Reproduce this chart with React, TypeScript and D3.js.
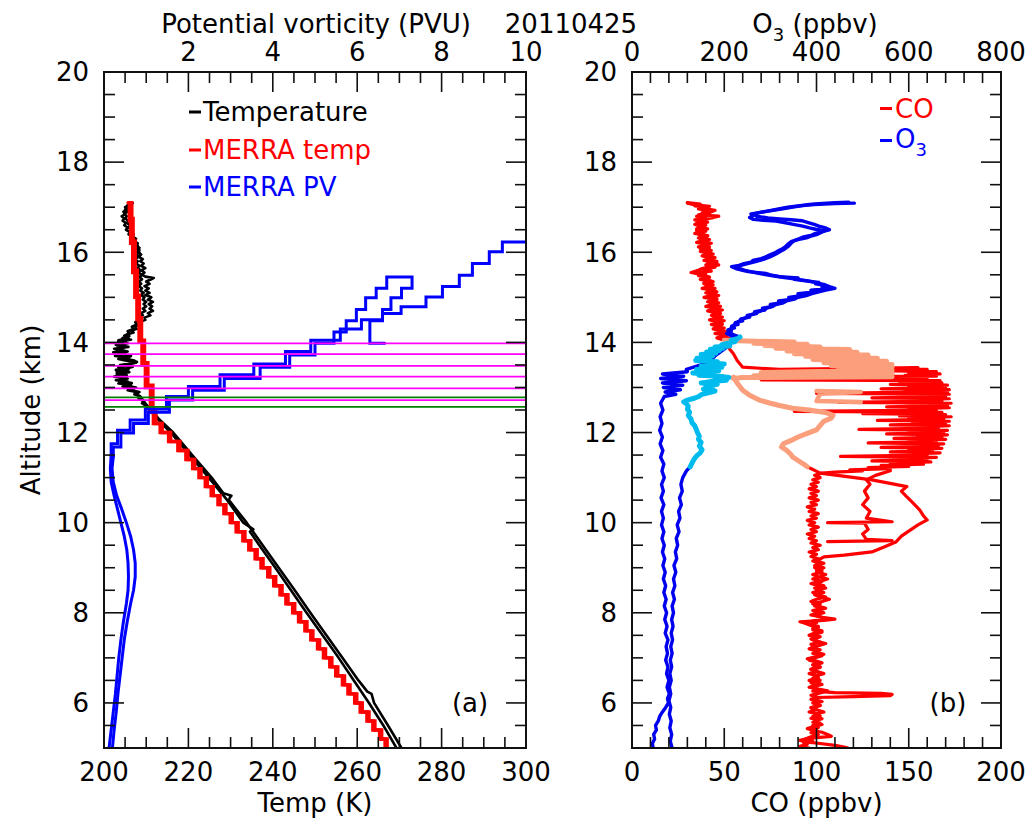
import React from "react";
import * as d3 from "d3";

type P = [number, number]; // [altitude km, value]

// ---------------- tick labels ----------------
const altLabels = [6, 8, 10, 12, 14, 16, 18, 20];
const tempLabels = [200, 220, 240, 260, 280, 300];
const pvLabels = [2, 4, 6, 8, 10];
const coLabels = [0, 50, 100, 150, 200];
const o3Labels = [0, 200, 400, 600, 800];

// ---------------- panel (a) ----------------
const tempUp: P[] = [
  [5.0, 269.3], [5.5, 266.2], [6.0, 262.8], [6.5, 259.2], [7.0, 255.6], [7.5, 251.8], [8.0, 248.0], [8.5, 244.3],
  [9.0, 240.6], [9.5, 236.8], [9.8, 234.6], [9.85, 235.4], [10.0, 233.0], [10.5, 229.2], [11.0, 224.8], [11.5, 220.3],
  [12.0, 215.8], [12.2, 213.7], [12.4, 211.8], [12.6, 209.8],
  [12.65, 209.0], [12.7, 209.4], [12.75, 208.2], [12.8, 208.6], [12.85, 207.2], [12.9, 207.6], [12.94, 205.6],
  [12.98, 207.2], [13.02, 204.4], [13.06, 206.4], [13.09, 203.4], [13.13, 205.6], [13.16, 202.8], [13.2, 205.0],
  [13.24, 202.4], [13.27, 205.4], [13.3, 203.0], [13.34, 206.0], [13.39, 202.8], [13.43, 205.8], [13.46, 206.8],
  [13.5, 203.8], [13.53, 206.6], [13.57, 207.8], [13.6, 205.0], [13.63, 203.4], [13.66, 206.0], [13.7, 202.6],
  [13.74, 205.0], [13.78, 202.2], [13.82, 204.6], [13.86, 202.4], [13.9, 205.8], [13.94, 203.0], [13.98, 205.6],
  [14.02, 203.4], [14.06, 206.4], [14.1, 204.4], [14.14, 206.0], [14.18, 205.6], [14.22, 207.0], [14.26, 206.4],
  [14.3, 207.8], [14.35, 207.4], [14.4, 208.8], [14.45, 208.4], [14.5, 209.8], [14.55, 209.6], [14.6, 211.0],
  [14.65, 210.4], [14.7, 211.6], [14.75, 210.8], [14.8, 211.4], [14.85, 210.6], [14.9, 211.6], [14.95, 210.4],
  [15.0, 211.2], [15.05, 209.8], [15.1, 210.8], [15.15, 209.8], [15.2, 210.6], [15.25, 209.6], [15.3, 210.8],
  [15.35, 210.0], [15.4, 211.2], [15.43, 211.8], [15.46, 209.8], [15.5, 209.0], [15.55, 209.6], [15.6, 208.8],
  [15.65, 209.8], [15.7, 208.8], [15.75, 209.4], [15.8, 208.6], [15.85, 209.2], [15.9, 208.2], [15.95, 208.8],
  [16.0, 207.8], [16.05, 208.4], [16.1, 207.4], [16.15, 208.0], [16.2, 207.0], [16.25, 207.4], [16.3, 206.4],
  [16.35, 206.8], [16.4, 205.8], [16.45, 206.2], [16.5, 205.2], [16.55, 205.6], [16.6, 204.8], [16.65, 205.2],
  [16.7, 204.4], [16.75, 204.8], [16.8, 204.2], [16.85, 205.0], [16.9, 204.6], [16.95, 205.6], [17.0, 205.0],
  [17.05, 206.0], [17.09, 206.4],
];
const tempDown: P[] = [
  [17.09, 206.8], [17.05, 205.6], [17.0, 206.2], [16.95, 205.0], [16.9, 205.6], [16.85, 204.8], [16.8, 205.4],
  [16.75, 205.0], [16.7, 205.8], [16.65, 205.4], [16.6, 206.2], [16.55, 205.8], [16.5, 206.6], [16.45, 206.2],
  [16.4, 207.0], [16.35, 206.8], [16.3, 207.6], [16.25, 207.2], [16.2, 208.0], [16.15, 207.6], [16.1, 208.4],
  [16.05, 208.0], [16.0, 208.4], [15.95, 207.6], [15.9, 208.2], [15.85, 207.4], [15.8, 208.0], [15.75, 207.6],
  [15.7, 208.4], [15.65, 208.0], [15.6, 208.6], [15.55, 208.2], [15.5, 209.0], [15.45, 208.4], [15.4, 209.0],
  [15.35, 208.2], [15.3, 208.8], [15.25, 208.2], [15.2, 209.0], [15.15, 208.6], [15.1, 209.4], [15.05, 208.8],
  [15.0, 209.6], [14.95, 209.2], [14.9, 210.0], [14.85, 209.4], [14.8, 210.0], [14.75, 209.2], [14.7, 209.8],
  [14.65, 208.8], [14.6, 209.2], [14.55, 208.2], [14.5, 208.6], [14.45, 207.4], [14.4, 207.8], [14.35, 206.6],
  [14.3, 207.0], [14.25, 205.6], [14.2, 206.0], [14.15, 204.8], [14.1, 205.8], [14.05, 203.4], [14.0, 205.2],
  [13.95, 202.8], [13.9, 205.0], [13.85, 203.0], [13.8, 205.6], [13.75, 203.8], [13.7, 206.4], [13.65, 204.4],
  [13.6, 207.2], [13.55, 207.6], [13.5, 204.6], [13.45, 203.4], [13.4, 205.8], [13.35, 203.0], [13.3, 205.2],
  [13.25, 202.8], [13.2, 205.6], [13.15, 203.6], [13.1, 206.6], [13.05, 204.8], [13.0, 207.6], [12.95, 205.8],
  [12.9, 208.4], [12.85, 207.6], [12.8, 208.6], [12.7, 209.4], [12.6, 210.2], [12.5, 211.3], [12.3, 213.0],
  [12.0, 216.4], [11.5, 220.9], [11.0, 225.5], [10.65, 228.3], [10.6, 230.2], [10.55, 229.8], [10.5, 229.6],
  [10.0, 233.8], [9.5, 237.6], [9.0, 241.4], [8.5, 245.2], [8.0, 248.9], [7.5, 252.7], [7.0, 256.5], [6.5, 260.3],
  [6.25, 262.4], [6.2, 263.4], [6.0, 264.0], [5.5, 267.3], [5.0, 270.5],
];
const merraTempA: P[] = [
  [5.0, 266.6], [5.2, 265.3], [5.4, 263.7], [5.6, 262.3], [5.8, 260.7], [6.0, 259.4], [6.2, 257.8], [6.4, 256.5],
  [6.6, 254.9], [6.8, 253.5], [7.0, 252.0], [7.2, 250.6], [7.4, 249.0], [7.6, 247.6], [7.8, 246.1], [8.0, 244.7],
  [8.2, 243.1], [8.4, 241.7], [8.6, 240.2], [8.8, 238.8], [9.0, 237.2], [9.2, 235.8], [9.4, 234.3], [9.6, 232.9],
  [9.8, 231.3], [10.0, 229.9], [10.2, 228.4], [10.4, 227.0], [10.6, 225.4], [10.8, 224.0], [11.0, 222.5],
  [11.2, 221.0], [11.4, 219.4], [11.6, 217.5], [11.8, 215.3], [12.0, 213.3], [12.2, 211.7], [12.45, 211.0],
  [13.0, 209.8], [13.5, 209.0], [14.0, 208.3], [14.5, 207.8], [15.0, 207.3], [15.55, 206.8], [16.2, 206.3],
  [16.7, 206.0], [17.1, 205.7],
];
const merraTempB: P[] = [
  [5.0, 267.1], [5.2, 265.8], [5.4, 264.2], [5.6, 262.8], [5.8, 261.2], [6.0, 259.9], [6.2, 258.3], [6.4, 257.0],
  [6.6, 255.4], [6.8, 254.0], [7.0, 252.5], [7.2, 251.1], [7.4, 249.5], [7.6, 248.1], [7.8, 246.6], [8.0, 245.2],
  [8.2, 243.6], [8.4, 242.2], [8.6, 240.7], [8.8, 239.3], [9.0, 237.7], [9.2, 236.3], [9.4, 234.8], [9.6, 233.4],
  [9.8, 231.8], [10.0, 230.4], [10.2, 228.9], [10.4, 227.5], [10.6, 225.9], [10.8, 224.5], [11.0, 223.0],
  [11.2, 221.5], [11.4, 219.9], [11.6, 218.0], [11.8, 215.8], [12.0, 213.8], [12.2, 212.3], [12.5, 211.6],
  [13.05, 210.4], [13.55, 209.6], [14.05, 208.9], [14.55, 208.4], [15.05, 207.9], [15.6, 207.4], [16.25, 206.9],
  [16.75, 206.6], [17.1, 206.3],
];
const pvUpLow: P[] = [
  [5.0, 0.2], [5.4, 0.24], [5.8, 0.29], [6.2, 0.33], [6.6, 0.38], [7.0, 0.43], [7.4, 0.48], [7.8, 0.55], [8.2, 0.63],
  [8.5, 0.7], [8.8, 0.74], [9.1, 0.74], [9.4, 0.7], [9.7, 0.63], [10.0, 0.53], [10.3, 0.42], [10.6, 0.3],
  [10.9, 0.22], [11.2, 0.19], [11.46, 0.22],
];
const pvUpStair: P[] = [
  [11.46, 0.22], [11.68, 0.4], [11.99, 0.7], [12.2, 1.05], [12.45, 1.55], [12.72, 2.1], [12.94, 2.85], [13.2, 3.7],
  [13.45, 4.4], [13.72, 5.0], [13.98, 5.45], [14.23, 5.74], [14.48, 5.98], [14.73, 6.2], [14.99, 6.45], [15.2, 6.7],
  [15.45, 7.3], [15.2, 7.05], [14.99, 6.8], [14.73, 6.6], [14.48, 6.3], [13.98, 6.65],
];
const pvDownLow: P[] = [
  [5.0, 0.12], [5.4, 0.17], [5.8, 0.22], [6.2, 0.27], [6.6, 0.31], [7.0, 0.35], [7.4, 0.4], [7.8, 0.46], [8.2, 0.53],
  [8.5, 0.57], [8.8, 0.58], [9.1, 0.57], [9.4, 0.54], [9.7, 0.48], [10.0, 0.4], [10.3, 0.32], [10.6, 0.24],
  [10.9, 0.17], [11.2, 0.15], [11.5, 0.17],
];
const pvDownStair: P[] = [
  [11.5, 0.17], [11.75, 0.32], [12.05, 0.62], [12.28, 0.98], [12.52, 1.48], [12.8, 2.0], [13.02, 2.75],
  [13.28, 3.55], [13.52, 4.3], [13.8, 4.9], [14.05, 5.6], [14.3, 6.1], [14.5, 6.6], [14.64, 7.04], [14.79, 7.63],
  [15.01, 8.02], [15.24, 8.42], [15.49, 8.73], [15.75, 9.13], [16.01, 9.44], [16.23, 10.6],
];
const magentaAlts = [13.98, 13.74, 13.48, 13.24, 12.98, 12.72];
const greenAlts = [12.78, 12.57];

// ---------------- panel (b) ----------------
const coUp: P[] = [
  [5.0, 96], [5.04, 91], [5.08, 95], [5.12, 93], [5.16, 98], [5.2, 94], [5.25, 97], [5.3, 101], [5.34, 97],
  [5.38, 100], [5.43, 95], [5.48, 99], [5.52, 103], [5.57, 98], [5.62, 101], [5.66, 97], [5.71, 102], [5.75, 99],
  [5.8, 104], [5.85, 100], [5.89, 97], [5.94, 102], [5.98, 99], [6.03, 103], [6.08, 98], [6.12, 101], [6.17, 97],
  [6.22, 102], [6.27, 106], [6.31, 101], [6.36, 98], [6.41, 103], [6.46, 100], [6.5, 96], [6.55, 101], [6.6, 99],
  [6.65, 104], [6.7, 100], [6.74, 97], [6.79, 102], [6.84, 98], [6.89, 103], [6.94, 99], [6.98, 95], [7.03, 100],
  [7.08, 104], [7.13, 99], [7.18, 102], [7.22, 97], [7.27, 101], [7.32, 105], [7.37, 100], [7.42, 97], [7.47, 102],
  [7.52, 99], [7.57, 103], [7.62, 98], [7.67, 101], [7.72, 97], [7.78, 93], [7.8, 91], [7.83, 104], [7.86, 110],
  [7.9, 103], [7.95, 99], [8.0, 104], [8.05, 100], [8.1, 105], [8.15, 101], [8.2, 98], [8.25, 103], [8.3, 107],
  [8.35, 102], [8.4, 99], [8.45, 104], [8.5, 100], [8.55, 105], [8.6, 101], [8.65, 97], [8.7, 102], [8.75, 106],
  [8.8, 101], [8.85, 98], [8.9, 103], [8.95, 100], [9.0, 104], [9.05, 99], [9.1, 102], [9.15, 98], [9.2, 101],
  [9.25, 97], [9.3, 100], [9.35, 96], [9.4, 101], [9.45, 98], [9.5, 102], [9.55, 97], [9.6, 100], [9.65, 96],
  [9.7, 99], [9.75, 95], [9.8, 100], [9.85, 97], [9.9, 101], [9.95, 96], [10.0, 99], [10.05, 95], [10.1, 100],
  [10.15, 97], [10.2, 101], [10.25, 96], [10.3, 99], [10.35, 95], [10.4, 100], [10.45, 97], [10.5, 101],
  [10.55, 96], [10.6, 100], [10.65, 97], [10.7, 101], [10.75, 96], [10.8, 100], [10.85, 97], [10.9, 101],
  [10.95, 98], [11.0, 102], [11.05, 99], [11.1, 103],
  [11.12, 110], [11.15, 125], [11.17, 118], [11.2, 140], [11.22, 128], [11.25, 150], [11.27, 135], [11.3, 158],
  [11.32, 140], [11.35, 162], [11.37, 130], [11.4, 160], [11.42, 145], [11.45, 165], [11.47, 113], [11.5, 160],
  [11.52, 148], [11.55, 167], [11.57, 140], [11.6, 163], [11.62, 150], [11.65, 168], [11.67, 135], [11.7, 166],
  [11.72, 152], [11.75, 169], [11.77, 128], [11.8, 165], [11.82, 150], [11.85, 170], [11.87, 142], [11.9, 168],
  [11.92, 155], [11.95, 171], [11.97, 138], [12.0, 169], [12.02, 150], [12.05, 171], [12.07, 123], [12.1, 166],
  [12.12, 155], [12.15, 172], [12.17, 140], [12.2, 170], [12.22, 152], [12.25, 172], [12.27, 133], [12.3, 169],
  [12.32, 150], [12.35, 173], [12.37, 145], [12.4, 170], [12.42, 125], [12.45, 168], [12.47, 88], [12.5, 165],
  [12.52, 150], [12.55, 172], [12.57, 138], [12.6, 171], [12.62, 155], [12.65, 173], [12.67, 112], [12.7, 168],
  [12.72, 150], [12.75, 172], [12.77, 130], [12.8, 170], [12.82, 152], [12.85, 172], [12.87, 100], [12.9, 171],
  [12.92, 148], [12.95, 172], [12.97, 135], [13.0, 170], [13.02, 150], [13.05, 171], [13.07, 140], [13.1, 168],
  [13.12, 145], [13.15, 167], [13.17, 70], [13.19, 141], [13.21, 160], [13.23, 69], [13.25, 165], [13.27, 148],
  [13.3, 167], [13.32, 150], [13.35, 165], [13.37, 142], [13.4, 160], [13.42, 145], [13.44, 155], [13.4, 80],
  [13.45, 60], [13.6, 57], [13.75, 55], [13.9, 52],
  [14.05, 50], [14.1, 46], [14.15, 51], [14.2, 45], [14.25, 49], [14.3, 44], [14.35, 48], [14.4, 43], [14.45, 47],
  [14.5, 42], [14.55, 48], [14.6, 43], [14.65, 46], [14.7, 41], [14.75, 46], [14.8, 40], [14.85, 45], [14.9, 41],
  [14.95, 46], [15.0, 39], [15.05, 44], [15.1, 40], [15.15, 45], [15.2, 38], [15.25, 43], [15.3, 39], [15.35, 44],
  [15.4, 37], [15.45, 42], [15.5, 38], [15.55, 32], [15.58, 43], [15.62, 39], [15.67, 45], [15.72, 40], [15.77, 46],
  [15.82, 39], [15.87, 44], [15.92, 38], [15.97, 43], [16.02, 37], [16.07, 42], [16.12, 36], [16.17, 41],
  [16.22, 35], [16.27, 40], [16.32, 36], [16.37, 41], [16.42, 34], [16.47, 40], [16.52, 35], [16.57, 39],
  [16.62, 34], [16.67, 41], [16.72, 37], [16.77, 44], [16.8, 47], [16.83, 36], [16.88, 42], [16.93, 45],
  [16.98, 38], [17.02, 42], [17.06, 33], [17.09, 30],
];
const coDownTop: P[] = [
  [17.1, 30], [17.07, 37], [17.03, 34], [17.0, 41], [16.96, 36], [16.92, 43], [16.88, 38], [16.84, 42], [16.8, 35],
  [16.76, 40], [16.72, 34], [16.68, 39], [16.64, 35], [16.6, 40], [16.56, 36], [16.52, 41], [16.48, 35],
  [16.44, 39], [16.4, 36], [16.36, 41], [16.32, 37], [16.28, 42], [16.24, 37], [16.2, 43], [16.16, 38],
  [16.12, 42], [16.08, 37], [16.04, 43], [16.0, 39], [15.96, 44], [15.92, 40], [15.88, 45], [15.84, 40],
  [15.8, 46], [15.76, 41], [15.72, 47], [15.68, 42], [15.64, 38], [15.6, 36], [15.56, 33], [15.52, 40],
  [15.48, 36], [15.44, 42], [15.4, 38], [15.36, 43], [15.32, 39], [15.28, 44], [15.24, 40], [15.2, 45],
  [15.16, 41], [15.12, 46], [15.08, 42], [15.04, 47], [15.0, 43], [14.96, 46], [14.92, 42], [14.88, 47],
  [14.84, 43], [14.8, 48], [14.76, 44], [14.72, 49], [14.68, 45], [14.64, 48], [14.6, 44], [14.56, 49],
  [14.52, 45], [14.48, 50], [14.44, 46], [14.4, 49], [14.36, 45], [14.32, 50], [14.28, 47], [14.24, 51],
  [14.2, 48], [14.16, 52], [14.12, 49], [14.08, 53], [14.05, 52],
];
const coDownLow: P[] = [
  [11.24, 95], [11.1, 102], [10.95, 130], [10.8, 149], [10.7, 146], [10.57, 149], [10.45, 152], [10.28, 156],
  [10.15, 158], [10.06, 160], [9.95, 155], [9.84, 151], [9.7, 146], [9.57, 143], [9.45, 136], [9.35, 130],
  [9.28, 115], [9.24, 104], [9.15, 100], [9.1, 104], [9.05, 101], [9.0, 99], [8.95, 103], [8.9, 100], [8.85, 105],
  [8.8, 102], [8.75, 98], [8.7, 103], [8.65, 100], [8.6, 104], [8.55, 99], [8.5, 102], [8.45, 98], [8.4, 101],
  [8.35, 105], [8.3, 100], [8.25, 97], [8.2, 102], [8.15, 99], [8.1, 103], [8.05, 98], [8.0, 101], [7.95, 97],
  [7.9, 103], [7.86, 106], [7.82, 98], [7.78, 100], [7.74, 96], [7.7, 101], [7.65, 98], [7.6, 103], [7.55, 99],
  [7.5, 96], [7.45, 101], [7.4, 98], [7.35, 102], [7.3, 97], [7.25, 100], [7.2, 96], [7.15, 101], [7.1, 98],
  [7.05, 103], [7.0, 99], [6.95, 96], [6.9, 101], [6.85, 98], [6.8, 102], [6.75, 97], [6.7, 100], [6.65, 96],
  [6.6, 101], [6.55, 98], [6.5, 102], [6.45, 97], [6.4, 100], [6.35, 96], [6.3, 101], [6.26, 98], [6.23, 110],
  [6.21, 135], [6.19, 141], [6.16, 140], [6.14, 120], [6.12, 100], [6.08, 97], [6.04, 101], [6.0, 98],
  [5.95, 102], [5.9, 97], [5.85, 100], [5.8, 96], [5.75, 101], [5.7, 98], [5.65, 103], [5.6, 99], [5.55, 102],
  [5.5, 98], [5.45, 101], [5.4, 97], [5.35, 103], [5.3, 106], [5.26, 108], [5.23, 100], [5.2, 94], [5.17, 91],
  [5.13, 95], [5.1, 102], [5.06, 110], [5.02, 115], [5.0, 117],
];
const coMid: P[] = [
  [9.58, 106], [9.6, 141], [9.63, 127], [9.75, 125], [9.85, 128], [9.99, 126], [10.0, 106], [10.02, 141],
  [10.1, 127], [10.25, 129], [10.4, 125], [10.55, 128], [10.7, 126], [10.85, 129], [10.95, 127], [11.05, 132],
  [11.15, 140],
];
const coHiBand: P[] = [
  [14.05, 50], [14.03, 62], [14.01, 88], [13.98, 66], [13.96, 95], [13.93, 72], [13.9, 102], [13.87, 78],
  [13.84, 118], [13.81, 84], [13.78, 122], [13.75, 88], [13.72, 128], [13.69, 94], [13.65, 133], [13.62, 98],
  [13.58, 138], [13.55, 104], [13.51, 141], [13.48, 108], [13.45, 141], [13.41, 112], [13.38, 141], [13.33, 70],
  [13.3, 141], [13.26, 66], [13.24, 141], [13.22, 60], [13.2, 55],
];
const coHiCurve: P[] = [
  [13.23, 55], [13.1, 57], [12.94, 60], [12.82, 64], [12.72, 69], [12.65, 75], [12.6, 80], [12.54, 87],
  [12.5, 96], [12.45, 104], [12.43, 106], [12.38, 109], [12.32, 108], [12.25, 104], [12.16, 102], [12.06, 100],
  [11.98, 95], [11.9, 90], [11.82, 86], [11.75, 82], [11.68, 81], [11.6, 84], [11.52, 86], [11.46, 87],
  [11.38, 90], [11.3, 93], [11.24, 95],
];
const coHiBits: P[] = [[12.92, 100], [12.9, 124], [12.86, 102], [12.7, 100], [12.68, 124]];

const o3Up: P[] = [
  [5.0, 46], [5.1, 44], [5.2, 49], [5.3, 47], [5.4, 53], [5.5, 51], [5.6, 57], [5.7, 60], [5.8, 66], [5.9, 73],
  [6.0, 79], [6.1, 77], [6.2, 81], [6.35, 76], [6.5, 80], [6.65, 75], [6.8, 78], [6.95, 73], [7.1, 77], [7.25, 74],
  [7.4, 78], [7.55, 72], [7.7, 76], [7.85, 71], [8.0, 75], [8.15, 70], [8.3, 74], [8.45, 69], [8.6, 73], [8.75, 68],
  [8.9, 72], [9.05, 67], [9.2, 71], [9.35, 66], [9.5, 70], [9.65, 65], [9.8, 69], [9.95, 64], [10.1, 68],
  [10.25, 64], [10.4, 69], [10.55, 63], [10.7, 68], [10.85, 64], [11.0, 70], [11.15, 65], [11.3, 69], [11.45, 62],
  [11.6, 67], [11.75, 61], [11.9, 66], [12.05, 60], [12.2, 65], [12.35, 61], [12.5, 67], [12.65, 62], [12.8, 70],
  [12.85, 95], [12.9, 72], [12.95, 105], [13.0, 68], [13.05, 110], [13.1, 66], [13.15, 118], [13.2, 62],
  [13.25, 112], [13.3, 66], [13.35, 120], [13.4, 118],
  [13.55, 165], [13.7, 180], [13.85, 200], [14.0, 215], [14.1, 225],
  [14.2, 205], [14.24, 215], [14.28, 208], [14.32, 222], [14.36, 216], [14.4, 230], [14.44, 224], [14.48, 240],
  [14.52, 236], [14.56, 255], [14.6, 250], [14.64, 270], [14.68, 266], [14.72, 288], [14.76, 283], [14.8, 305],
  [14.84, 300], [14.88, 325], [14.92, 318], [14.96, 348], [15.0, 340], [15.04, 368], [15.08, 360], [15.12, 395],
  [15.16, 388], [15.2, 429], [15.23, 412], [15.26, 420], [15.3, 398], [15.33, 405], [15.36, 380], [15.4, 352],
  [15.43, 360], [15.46, 320], [15.5, 300], [15.53, 290], [15.57, 252], [15.6, 240], [15.64, 225], [15.68, 216],
  [15.71, 232], [15.74, 240], [15.78, 258], [15.82, 262], [15.86, 280], [15.9, 290], [15.94, 298], [15.98, 308],
  [16.02, 315], [16.07, 325], [16.12, 332], [16.18, 338], [16.24, 346], [16.28, 360], [16.32, 378], [16.36, 388],
  [16.4, 402], [16.44, 410], [16.48, 418], [16.51, 398], [16.54, 385], [16.58, 370], [16.62, 350], [16.66, 330],
  [16.69, 312], [16.71, 285], [16.73, 263], [16.77, 255], [16.81, 262], [16.85, 258], [16.89, 282], [16.93, 306],
  [16.97, 330], [17.01, 352], [17.04, 375], [17.06, 395], [17.08, 440], [17.09, 482],
];
const o3DownTop: P[] = [
  [17.11, 470], [17.1, 440], [17.08, 405], [17.06, 385], [17.03, 360], [17.0, 338], [16.96, 318], [16.92, 296],
  [16.88, 275], [16.84, 262], [16.8, 270], [16.76, 295], [16.74, 320], [16.72, 345], [16.7, 368], [16.66, 382],
  [16.62, 395], [16.58, 405], [16.54, 420], [16.5, 428], [16.46, 412], [16.42, 398], [16.38, 390], [16.34, 372],
  [16.3, 362], [16.26, 352], [16.2, 345], [16.14, 340], [16.08, 332], [16.02, 322], [15.96, 312], [15.9, 300],
  [15.84, 285], [15.8, 270], [15.76, 255], [15.72, 240], [15.68, 228], [15.64, 232], [15.6, 245], [15.56, 262],
  [15.52, 280], [15.48, 305], [15.44, 330], [15.4, 360], [15.36, 385], [15.32, 400], [15.28, 418], [15.24, 428],
  [15.2, 440], [15.16, 420], [15.12, 405], [15.08, 390], [15.04, 378], [15.0, 360], [14.96, 352], [14.92, 335],
  [14.88, 328], [14.84, 312], [14.8, 305], [14.76, 292], [14.72, 285], [14.68, 275], [14.64, 265], [14.6, 255],
  [14.56, 248], [14.52, 240], [14.48, 233], [14.44, 228], [14.4, 222], [14.36, 220], [14.32, 215], [14.28, 216],
  [14.24, 212], [14.2, 215], [14.16, 222], [14.12, 234],
];
const o3DownLow: P[] = [
  [11.24, 126], [11.15, 118], [11.0, 110], [10.85, 106], [10.7, 109], [10.55, 103], [10.4, 107], [10.25, 101],
  [10.1, 104], [9.95, 98], [9.8, 102], [9.65, 96], [9.5, 99], [9.35, 94], [9.2, 97], [9.05, 91], [8.9, 95],
  [8.75, 90], [8.6, 93], [8.45, 88], [8.3, 92], [8.15, 87], [8.0, 90], [7.85, 86], [7.7, 89], [7.55, 85], [7.4, 88],
  [7.25, 84], [7.1, 87], [6.95, 83], [6.8, 86], [6.65, 82], [6.5, 85], [6.35, 81], [6.2, 84], [6.05, 80], [5.9, 84],
  [5.75, 81], [5.6, 85], [5.45, 82], [5.3, 86], [5.15, 83], [5.0, 87],
];
const o3Hi: P[] = [
  [14.12, 234], [14.08, 228], [14.05, 215], [14.02, 224], [13.98, 206], [13.95, 195], [13.92, 212], [13.9, 180],
  [13.87, 198], [13.85, 170], [13.82, 190], [13.79, 162], [13.76, 182], [13.73, 150], [13.7, 175], [13.68, 160],
  [13.65, 141], [13.62, 168], [13.6, 138], [13.57, 185], [13.55, 160], [13.52, 200], [13.5, 172], [13.47, 150],
  [13.45, 195], [13.42, 165], [13.4, 140], [13.37, 188], [13.35, 150], [13.32, 132], [13.3, 170], [13.27, 145],
  [13.25, 190], [13.22, 210], [13.19, 180], [13.16, 205], [13.13, 170], [13.1, 150], [13.07, 185], [13.04, 160],
  [13.0, 175], [12.96, 155], [12.92, 180], [12.88, 165], [12.84, 150], [12.8, 145], [12.76, 135], [12.72, 120],
  [12.68, 112], [12.64, 118], [12.58, 122], [12.52, 120], [12.45, 125], [12.38, 122], [12.3, 128], [12.22, 130],
  [12.15, 136], [12.08, 139], [12.0, 142], [11.92, 146], [11.85, 144], [11.78, 150], [11.7, 146], [11.62, 152],
  [11.55, 148], [11.48, 140], [11.4, 134], [11.32, 130], [11.24, 126],
];

// ---------------- geometry ----------------
const FONT = "'DejaVu Sans', Verdana, sans-serif";
const FS = 26;
const TOP = 72;
const BOT = 748;
const LX0 = 104;
const LX1 = 526;
const RX0 = 632;
const RX1 = 1001;

const yS = d3.scaleLinear().domain([5, 20]).range([BOT, TOP]);
const tS = d3.scaleLinear().domain([200, 300]).range([LX0, LX1]);
const pvS = d3.scaleLinear().domain([0, 10]).range([LX0, LX1]);
const coS = d3.scaleLinear().domain([0, 200]).range([RX0, RX1]);
const o3S = d3.scaleLinear().domain([0, 800]).range([RX0, RX1]);

function pth(data: P[], xs: (v: number) => number, curve: d3.CurveFactory = d3.curveLinear): string {
  return d3.line<P>().x((d) => xs(d[1])).y((d) => yS(d[0])).curve(curve)(data) ?? "";
}

const MAJ = 20;
const MIN = 11;

function isMult(v: number, m: number) {
  return Math.abs(v / m - Math.round(v / m)) < 1e-6;
}

function Frame(props: {
  x0: number; x1: number;
  bottom: (v: number) => number; bottomTicks: number[]; bottomMajor: number;
  top: (v: number) => number; topTicks: number[]; topMajor: number;
}) {
  const { x0, x1 } = props;
  const yTicks = d3.range(5, 20.001, 0.5);
  const lines: React.ReactElement[] = [];
  yTicks.forEach((v, i) => {
    const L = isMult(v, 2) ? MAJ : MIN;
    const y = yS(v);
    lines.push(<line key={"yl" + i} x1={x0} x2={x0 + L} y1={y} y2={y} />);
    lines.push(<line key={"yr" + i} x1={x1 - L} x2={x1} y1={y} y2={y} />);
  });
  props.bottomTicks.forEach((v, i) => {
    const L = isMult(v, props.bottomMajor) ? MAJ : MIN;
    const x = props.bottom(v);
    lines.push(<line key={"b" + i} x1={x} x2={x} y1={BOT} y2={BOT - L} />);
  });
  props.topTicks.forEach((v, i) => {
    const L = isMult(v, props.topMajor) ? MAJ : MIN;
    const x = props.top(v);
    lines.push(<line key={"t" + i} x1={x} x2={x} y1={TOP} y2={TOP + L} />);
  });
  return (
    <g stroke="#111" strokeWidth={1.6} fill="none">
      {lines}
      <rect x={x0} y={TOP} width={x1 - x0} height={BOT - TOP} strokeWidth={2} />
    </g>
  );
}

export default function App() {
  const txt = { fontFamily: FONT, fontSize: FS, fill: "#000" } as const;
  const RED = "#ff0000";
  const BLUE = "#0000ee";
  const SALMON = "#fa9e7c";
  const CYAN = "#00bbee";
  return (
    <svg
      width={1031}
      height={819}
      viewBox="0 0 1031 819"
      style={{ position: "absolute", left: 0, top: 0, background: "#fff", display: "block" }}
    >
      <defs>
        <clipPath id="clipL">
          <rect x={LX0} y={TOP} width={LX1 - LX0} height={BOT - TOP} />
        </clipPath>
        <clipPath id="clipR">
          <rect x={RX0} y={TOP} width={RX1 - RX0} height={BOT - TOP} />
        </clipPath>
      </defs>
      <rect x={0} y={0} width={1031} height={819} fill="#fff" />

      {/* ---------- panel (a) data ---------- */}
      <g clipPath="url(#clipL)" fill="none" strokeLinejoin="round" strokeLinecap="round">
        <path d={pth(tempUp, tS)} stroke="#000" strokeWidth={2.6} />
        <path d={pth(tempDown, tS)} stroke="#000" strokeWidth={2.6} />
        <path d={pth(merraTempA, tS, d3.curveStepBefore)} stroke={RED} strokeWidth={3.4} strokeLinejoin="miter" />
        <path d={pth(merraTempB, tS, d3.curveStepBefore)} stroke={RED} strokeWidth={3.4} strokeLinejoin="miter" />
        <path d={pth(pvUpLow, pvS)} stroke="#0000ff" strokeWidth={3} />
        <path d={pth(pvDownLow, pvS)} stroke="#0000ff" strokeWidth={3} />
        <path d={pth(pvUpStair, pvS, d3.curveStepBefore)} stroke="#0000ff" strokeWidth={3} strokeLinejoin="miter" />
        <path d={pth(pvDownStair, pvS, d3.curveStepBefore)} stroke="#0000ff" strokeWidth={3} strokeLinejoin="miter" />
        {magentaAlts.map((a, i) => (
          <line key={"m" + i} x1={LX0} x2={LX1} y1={yS(a)} y2={yS(a)} stroke="#ff00ff" strokeWidth={1.8} />
        ))}
        {greenAlts.map((a, i) => (
          <line key={"g" + i} x1={LX0} x2={LX1} y1={yS(a)} y2={yS(a)} stroke="#008000" strokeWidth={1.6} />
        ))}
      </g>

      {/* ---------- panel (b) data ---------- */}
      <g clipPath="url(#clipR)" fill="none" strokeLinejoin="round" strokeLinecap="round">
        <path d={pth(coUp, coS)} stroke={RED} strokeWidth={3.2} />
        <path d={pth(coDownTop, coS)} stroke={RED} strokeWidth={3.2} />
        <path d={pth(coDownLow, coS)} stroke={RED} strokeWidth={3.2} />
        <path d={pth(coMid, coS)} stroke={RED} strokeWidth={3.2} />
        <path d={pth(o3Up, o3S)} stroke={BLUE} strokeWidth={3.4} />
        <path d={pth(o3DownTop, o3S)} stroke={BLUE} strokeWidth={3.4} />
        <path d={pth(o3DownLow, o3S)} stroke={BLUE} strokeWidth={3.4} />
        <path d={pth(coHiBand, coS)} stroke={SALMON} strokeWidth={5} />
        <path d={pth(coHiCurve, coS)} stroke={SALMON} strokeWidth={5} />
        <path d={pth(coHiBits, coS)} stroke={SALMON} strokeWidth={4.5} />
        <path d={pth(o3Hi, o3S)} stroke={CYAN} strokeWidth={5} />
      </g>

      {/* ---------- frames & ticks ---------- */}
      <Frame
        x0={LX0} x1={LX1}
        bottom={tS} bottomTicks={d3.range(200, 300.001, 5)} bottomMajor={20}
        top={pvS} topTicks={d3.range(0, 10.001, 0.5)} topMajor={2}
      />
      <Frame
        x0={RX0} x1={RX1}
        bottom={coS} bottomTicks={d3.range(0, 200.001, 10)} bottomMajor={50}
        top={o3S} topTicks={d3.range(0, 800.001, 40)} topMajor={200}
      />

      {/* ---------- tick labels ---------- */}
      <g {...txt}>
        {altLabels.map((v) => (
          <text key={"al" + v} x={LX0 - 15} y={yS(v)} dy="0.36em" textAnchor="end">{v}</text>
        ))}
        {altLabels.map((v) => (
          <text key={"ar" + v} x={RX0 - 15} y={yS(v)} dy="0.36em" textAnchor="end">{v}</text>
        ))}
        {tempLabels.map((v) => (
          <text key={"t" + v} x={tS(v)} y={781} textAnchor="middle">{v}</text>
        ))}
        {pvLabels.map((v) => (
          <text key={"p" + v} x={pvS(v)} y={61} textAnchor="middle">{v}</text>
        ))}
        {coLabels.map((v) => (
          <text key={"c" + v} x={coS(v)} y={781} textAnchor="middle">{v}</text>
        ))}
        {o3Labels.map((v) => (
          <text key={"o" + v} x={o3S(v)} y={61} textAnchor="middle">{v}</text>
        ))}

        {/* axis titles */}
        <text x={(LX0 + LX1) / 2} y={812} textAnchor="middle">Temp (K)</text>
        <text x={(RX0 + RX1) / 2} y={812} textAnchor="middle">CO (ppbv)</text>
        <text x={316} y={33} textAnchor="middle">Potential vorticity (PVU)</text>
        <text x={571} y={33} textAnchor="middle">20110425</text>
        <text x={815} y={33} textAnchor="middle">
          O<tspan dy={8} fontSize={18}>3</tspan><tspan dy={-8}> (ppbv)</tspan>
        </text>
        <text transform="translate(31,410) rotate(-90)" textAnchor="middle" dy="0.36em">Altitude (km)</text>

        <text x={470} y={yS(6)} dy="0.36em" textAnchor="middle">(a)</text>
        <text x={948} y={yS(6)} dy="0.36em" textAnchor="middle">(b)</text>
      </g>

      {/* ---------- legends ---------- */}
      <g fontFamily={FONT} fontSize={FS}>
        <rect x={189} y={110.5} width={12} height={3} fill="#000" />
        <text x={203} y={112} dy="0.36em" fill="#000">Temperature</text>
        <rect x={189} y={148.5} width={12} height={3} fill={RED} />
        <text x={203} y={150} dy="0.36em" fill={RED}>MERRA temp</text>
        <rect x={189} y={185.5} width={12} height={3} fill="#0000ff" />
        <text x={203} y={187} dy="0.36em" fill="#0000ff">MERRA PV</text>

        <rect x={880} y={107} width={12} height={3} fill={RED} />
        <text x={895} y={109} dy="0.36em" fill={RED}>CO</text>
        <rect x={880} y={139} width={12} height={3} fill="#0000ff" />
        <text x={895} y={139} dy="0.36em" fill="#0000ff">
          O<tspan dy={8} fontSize={18}>3</tspan>
        </text>
      </g>
    </svg>
  );
}
